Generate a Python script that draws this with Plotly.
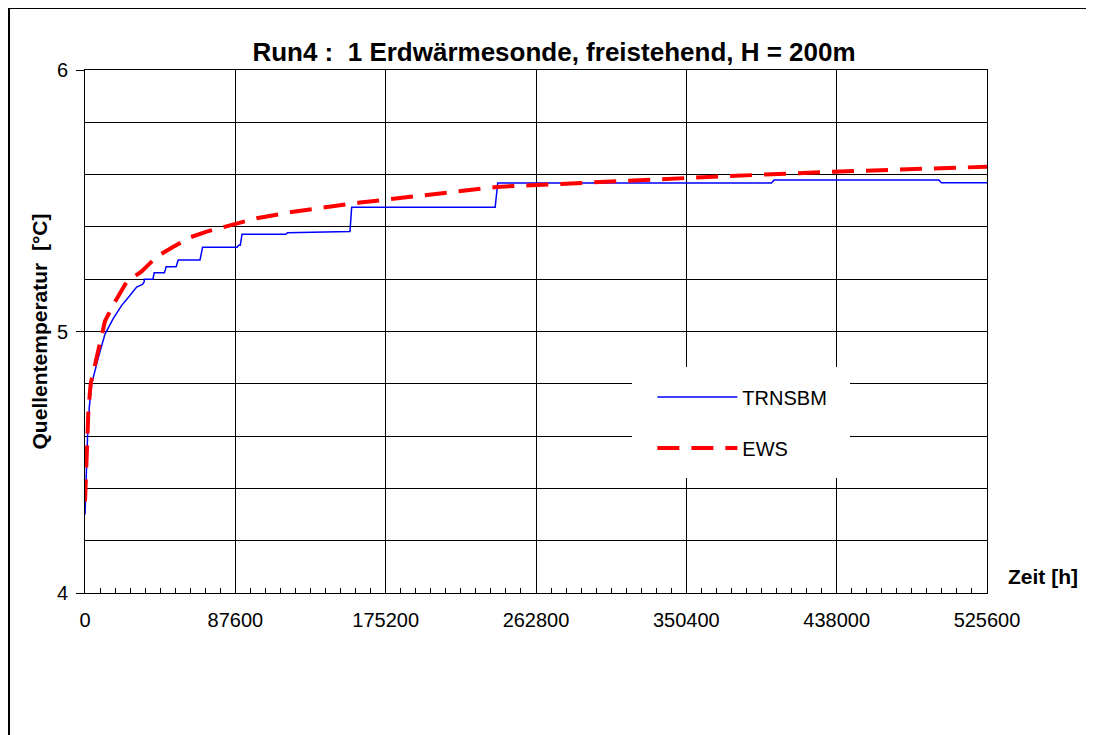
import plotly.graph_objects as go

# TRNSBM (step-like) - hours / degC
trn_t = [0, 1500, 2500, 3900, 7750, 11650, 16500, 21400, 25200, 30100, 33500,
         34500, 34500, 39600, 40300, 46300, 47300, 53100, 54300, 67000, 68500,
         88600, 89500, 90500, 91500, 117000, 118000, 154400, 155400, 239000, 240500,
         400000, 401500, 497500, 499000, 525600]
trn_y = [4.30, 4.60, 4.71, 4.80, 4.90, 4.99, 5.05, 5.10, 5.13, 5.17, 5.18,
         5.19, 5.20, 5.20, 5.225, 5.225, 5.248, 5.248, 5.273, 5.273, 5.322,
         5.322, 5.33, 5.33, 5.372, 5.372, 5.378, 5.382, 5.475, 5.475, 5.568,
         5.568, 5.579, 5.579, 5.569, 5.569]

# EWS (smooth, dashed)
ews_t = [0, 1000, 2000, 3300, 6700, 11650, 17500, 24300, 33000, 41700, 51500,
         61200, 70900, 81600, 100000, 121400, 142800, 160300, 240000, 300000,
         367000, 436000, 490500, 525600]
ews_y = [4.35, 4.56, 4.70, 4.80, 4.90, 5.04, 5.114, 5.19, 5.23, 5.286, 5.324,
         5.36, 5.382, 5.40, 5.433, 5.458, 5.477, 5.493, 5.553, 5.572, 5.592,
         5.611, 5.624, 5.63]

x_ticks = [0, 87600, 175200, 262800, 350400, 438000, 525600]

font = "Liberation Sans, Arial, sans-serif"

# plot area in figure pixels (page has an 8px body margin)
L, T, PW, PH = 77, 62, 902, 523
W, H = 1086, 727


def px(x):
    return (x - L) / PW


def py(y):
    return (T + PH - y) / PH


fig = go.Figure()
fig.add_trace(go.Scatter(x=trn_t, y=trn_y, mode="lines", name="TRNSBM",
                         line=dict(color="#0000ff", width=1.5),
                         legendgroup="a"))
fig.add_trace(go.Scatter(x=ews_t, y=ews_y, mode="lines", name="EWS",
                         line=dict(color="#ff0000", width=4, dash="22px,12px"),
                         legendgroup="b"))

fig.update_layout(
    width=W, height=H,
    margin=dict(l=L, r=W - L - PW, t=T, b=H - T - PH),
    paper_bgcolor="white", plot_bgcolor="white",
    font=dict(family=font, size=20, color="black"),
    title=dict(text="<b>Run4 :  1 Erdwärmesonde, freistehend, H = 200m</b>",
               x=546 / W, xanchor="center", y=(H - 44) / H, yanchor="middle",
               font=dict(size=26)),
    showlegend=True,
    legend=dict(x=0.629, y=0.412, xanchor="left", yanchor="top",
                bgcolor="rgba(0,0,0,0)", borderwidth=0,
                itemwidth=80, traceorder="grouped", tracegroupgap=22,
                font=dict(size=20)),
    xaxis=dict(range=[0, 525600], tickvals=x_ticks,
               ticktext=[str(v) for v in x_ticks],
               showgrid=True, gridcolor="black", gridwidth=1,
               showline=True, linecolor="black", linewidth=1, mirror=True,
               ticks="inside", ticklen=6, tickcolor="black",
               ticklabelstandoff=9,
               minor=dict(dtick=8760, tick0=0, ticks="inside", ticklen=5,
                          tickcolor="black", showgrid=False),
               zeroline=False, tickfont=dict(size=20)),
    yaxis=dict(range=[4, 6], tickvals=[4, 5, 6],
               showgrid=True, gridcolor="black", gridwidth=1,
               showline=True, linecolor="black", linewidth=1, mirror=True,
               ticks="outside", ticklen=8, tickcolor="black",
               ticklabelstandoff=4,
               minor=dict(dtick=0.2, tick0=4, showgrid=True, gridcolor="black",
                          gridwidth=1, ticks=""),
               zeroline=False, tickfont=dict(size=20),
               title=dict(text="<b>Quellentemperatur  [°C]</b>",
                          font=dict(size=21), standoff=3)),
    shapes=[
        # white box behind legend
        dict(type="rect", xref="paper", yref="paper",
             x0=(632 - 85) / 902, x1=(850 - 85) / 902,
             y0=(593 - 478) / 523, y1=(593 - 367) / 523,
             fillcolor="white", line=dict(width=0), layer="above"),
        # outer frame (left and top)
        dict(type="line", xref="paper", yref="paper",
             x0=px(1), x1=px(1), y0=py(H + 5), y1=py(0),
             line=dict(color="black", width=2)),
        dict(type="line", xref="paper", yref="paper",
             x0=px(0), x1=px(W + 5), y0=py(0), y1=py(0),
             line=dict(color="black", width=2)),
    ],
    annotations=[
        dict(text="<b>Zeit [h]</b>", xref="paper", yref="paper",
             x=px(1072), y=py(568),
             xanchor="right", yanchor="middle", showarrow=False,
             font=dict(size=21)),
    ],
)

fig.write_html("out.html")
